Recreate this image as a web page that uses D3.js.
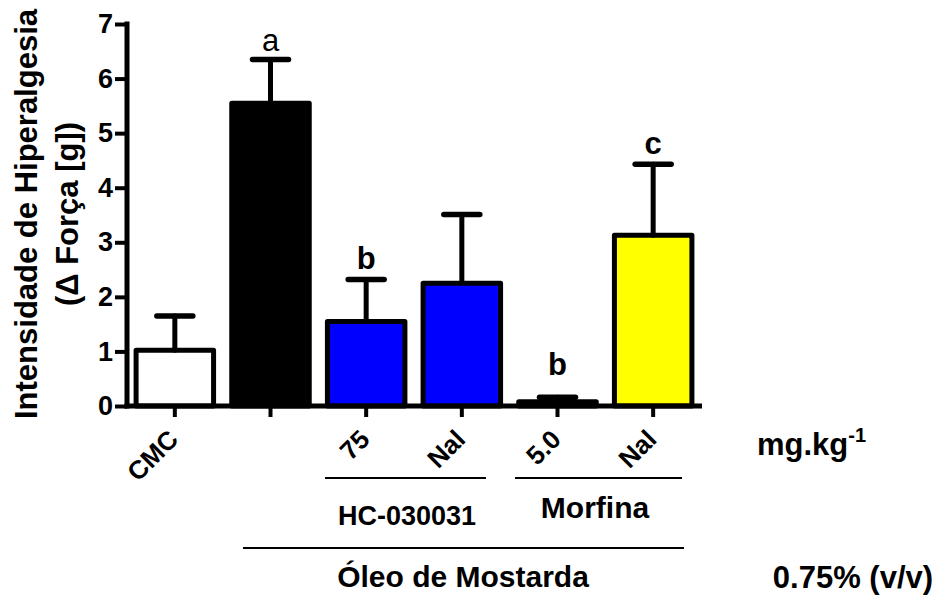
<!DOCTYPE html>
<html>
<head>
<meta charset="utf-8">
<script src="https://cdn.jsdelivr.net/npm/d3@7"></script>
<style>
  body { margin: 0; background: #fff; }
  svg { display: block; }
  text { font-family: "Liberation Sans", Arial, sans-serif; fill: #000; }
</style>
</head>
<body>
<svg id="chart" width="939" height="595"></svg>
<script>
// Groups, means and SEM of hyperalgesia intensity
const groups   = ["CMC", "OM", "75", "Nal1", "5.0", "Nal2"];
const tickText = ["CMC", "", "75", "Nal", "5.0", "Nal"];
const means    = [1.02, 5.55, 1.55, 2.25, 0.08, 3.13];
const sems     = [0.63, 0.80, 0.77, 1.26, 0.08, 1.30];
const fills    = ["#ffffff", "#000000", "#0000ff", "#0000ff", "#000000", "#ffff00"];
const letters  = ["", "a", "b", "", "b", "c"];
const yTicks   = [0, 1, 2, 3, 4, 5, 6, 7];

// gap (px) between the top of each error bar and its letter
const letterGap  = [0, 8, 10, 0, 22, 10];
const letterBold = [true, false, true, true, true, true];

const svg = d3.select("#chart");

const x = d3.scaleBand().domain(groups).range([127, 701]).paddingInner(0.19).paddingOuter(0.095);
const y = d3.scaleLinear().domain([0, 7]).range([406, 24]);

// Bars
svg.append("g").selectAll("rect").data(groups).join("rect")
  .attr("x", d => x(d))
  .attr("width", x.bandwidth())
  .attr("y", (d, i) => y(means[i]))
  .attr("height", (d, i) => y(0) - y(means[i]))
  .attr("fill", (d, i) => fills[i])
  .attr("stroke", "#000")
  .attr("stroke-width", 5)
  .attr("stroke-linejoin", "round");

// Upper error bars
const eg = svg.append("g").attr("stroke", "#000").attr("stroke-linecap", "round");
groups.forEach((g, i) => {
  const cx = x(g) + x.bandwidth() / 2;
  const top = y(means[i] + sems[i]);
  eg.append("line").attr("x1", cx).attr("x2", cx)
    .attr("y1", y(means[i])).attr("y2", top).attr("stroke-width", 5);
  eg.append("line").attr("x1", cx - 18).attr("x2", cx + 18)
    .attr("y1", top).attr("y2", top).attr("stroke-width", 5.5);
});

// Significance letters
svg.append("g").selectAll("text").data(groups).join("text")
  .attr("x", d => x(d) + x.bandwidth() / 2)
  .attr("y", (d, i) => y(means[i] + sems[i]) - letterGap[i])
  .attr("text-anchor", "middle")
  .style("font-size", "31px")
  .style("font-weight", (d, i) => letterBold[i] ? "bold" : "normal")
  .text((d, i) => letters[i]);

// Y axis
const yAxis = svg.append("g").attr("transform", "translate(127,0)")
  .call(d3.axisLeft(y).tickValues(yTicks).tickSize(12).tickPadding(2).tickFormat(d3.format("d")));
yAxis.select(".domain").attr("stroke-width", 5).attr("d", "M0,408.5V21.5");
yAxis.selectAll(".tick line").attr("stroke-width", 4);
yAxis.selectAll(".tick text").style("font-size", "27px").style("font-weight", "bold");

// X axis
const xAxis = svg.append("g").attr("transform", "translate(0,406)")
  .call(d3.axisBottom(x).tickSize(11).tickFormat((d, i) => tickText[i]));
xAxis.select(".domain").attr("stroke-width", 5).attr("d", "M124.5,0H702");
xAxis.selectAll(".tick line").attr("stroke-width", 4);
xAxis.selectAll(".tick text")
  .style("font-size", "26px").style("font-weight", "bold")
  .attr("text-anchor", "end")
  .attr("x", 0).attr("y", 0).attr("dy", 0)
  .attr("transform", "translate(5,35) rotate(-45)");

// Y title
const yt = svg.append("text").attr("transform", "translate(37,214) rotate(-90)")
  .attr("text-anchor", "middle").style("font-size", "31px").style("font-weight", "bold");
yt.append("tspan").attr("x", 0).attr("dy", 0).text("Intensidade de Hiperalgesia");
yt.append("tspan").attr("x", 0).attr("dy", 41).text("(\u0394 Força [g])");

// Group brackets drawn as rules under the tick labels
const rules = [[325, 486, 478], [515, 682, 478], [243, 684, 548]];
svg.append("g").selectAll("line").data(rules).join("line")
  .attr("x1", d => d[0]).attr("x2", d => d[1]).attr("y1", d => d[2]).attr("y2", d => d[2])
  .attr("stroke", "#000").attr("stroke-width", 2);

const labels = [
  ["HC-030031", 407, 525, 27],
  ["Morfina", 595, 518, 30],
  ["Óleo de Mostarda", 463, 587, 30],
  ["0.75% (v/v)", 853, 588, 31]
];
svg.append("g").selectAll("text").data(labels).join("text")
  .attr("x", d => d[1]).attr("y", d => d[2])
  .attr("text-anchor", "middle").style("font-weight", "bold")
  .style("font-size", d => d[3] + "px").text(d => d[0]);

const unit = svg.append("text").attr("x", 757).attr("y", 455)
  .style("font-weight", "bold").style("font-size", "31px");
unit.append("tspan").text("mg.kg");
unit.append("tspan").attr("dy", -13).style("font-size", "20px").text("-1");
</script>
</body>
</html>
